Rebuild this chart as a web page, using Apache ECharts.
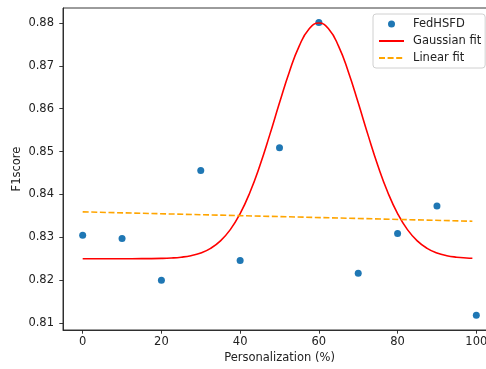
<!DOCTYPE html>
<html>
<head>
<meta charset="utf-8">
<script src="https://cdn.jsdelivr.net/npm/echarts@6/dist/echarts.min.js"></script>
<style>html,body{margin:0;padding:0;background:#fff}#c{width:486px;height:369px}</style>
</head>
<body>
<div id="c"></div>
<script>
// Observed data
var personalization = [0, 10, 20, 30, 40, 50, 60, 70, 80, 90, 100];
var f1score = [0.8305, 0.8297, 0.8200, 0.8456, 0.8246, 0.8509, 0.8801, 0.8216, 0.8309, 0.8373, 0.8118];

// Gaussian fit curve
var gaussX = [0, 5, 10, 15, 20, 22.5, 25, 27.5, 30, 32.5, 35, 37.5, 40, 42.5, 45, 47.5, 50, 52.5, 55, 57.5, 60,
              62.5, 65, 67.5, 70, 72.5, 75, 77.5, 80, 82.5, 85, 87.5, 90, 92.5, 95, 97.5, 99];
var gaussY = [0.8250, 0.8250, 0.8250, 0.82501, 0.82507, 0.82516, 0.82535, 0.8257, 0.82634, 0.82741, 0.82916, 0.83179, 0.83553,
              0.84052, 0.8467, 0.85384, 0.86138, 0.86859, 0.8746, 0.8786, 0.8800,
              0.8786, 0.8746, 0.86859, 0.86138, 0.85384, 0.8467, 0.84052, 0.83553, 0.83179, 0.82916, 0.82741,
              0.82634, 0.8257, 0.82535, 0.82516, 0.8251];

// Linear fit end points
var linearX = [0, 99];
var linearY = [0.83593, 0.83375];

// Tick labels
var xTicks = [0, 20, 40, 60, 80, 100];
var yTicks = [0.81, 0.82, 0.83, 0.84, 0.85, 0.86, 0.87, 0.88];

function zip(a, b) { return a.map(function (v, i) { return [v, b[i]]; }); }

var font = 'DejaVu Sans';
var fs = 11.5;
var chart = echarts.init(document.getElementById('c'), null, {renderer: 'canvas'});
chart.setOption({
  animation: false,
  backgroundColor: '#fff',
  textStyle: {fontFamily: font},
  grid: {left: 63, top: 8, width: 433, height: 322, show: true, borderColor: '#222', borderWidth: 0.9,
    containLabel: false, outerBoundsMode: 'none'},
  xAxis: {
    type: 'value', min: -5, max: 105,
    name: 'Personalization (%)', nameLocation: 'middle', nameGap: 22, nameMoveOverlap: false,
    nameTextStyle: {fontFamily: font, fontSize: fs, color: '#222'},
    axisLine: {show: true, onZero: false, lineStyle: {color: '#222', width: 0.9}},
    axisTick: {show: true, length: 3.7, customValues: xTicks, lineStyle: {color: '#222', width: 0.9}},
    axisLabel: {customValues: xTicks, margin: 6, fontFamily: font, fontSize: fs, color: '#222'},
    splitLine: {show: false}
  },
  yAxis: {
    type: 'value', min: 0.80836, max: 0.88351,
    name: 'F1score', nameLocation: 'middle', nameGap: 40, nameMoveOverlap: false,
    nameTextStyle: {fontFamily: font, fontSize: fs, color: '#222'},
    axisLine: {show: true, onZero: false, lineStyle: {color: '#222', width: 0.9}},
    axisTick: {show: true, length: 3.7, customValues: yTicks, lineStyle: {color: '#222', width: 0.9}},
    axisLabel: {customValues: yTicks, margin: 9, fontFamily: font, fontSize: fs, color: '#222',
      formatter: function (v) { return v.toFixed(2); }},
    splitLine: {show: false}
  },
  legend: {
    orient: 'vertical', left: 373, top: 14,
    backgroundColor: 'rgba(255,255,255,0.8)', borderColor: '#d0d0d0', borderWidth: 1, borderRadius: 3,
    padding: [4, 4, 4, 5], itemGap: 5, itemWidth: 25, itemHeight: 7,
    textStyle: {fontFamily: font, fontSize: fs, color: '#222', padding: [0, 0, 0, 4]},
    data: [
      {name: 'FedHSFD', icon: 'circle'},
      {name: 'Gaussian fit', itemStyle: {opacity: 0}},
      {name: 'Linear fit', itemStyle: {opacity: 0}}
    ]
  },
  series: [
    {
      name: 'Gaussian fit', type: 'line', data: zip(gaussX, gaussY), smooth: true, showSymbol: false, symbol: 'none',
      lineStyle: {color: '#ff0000', width: 1.6}, itemStyle: {color: '#ff0000'}, z: 2
    },
    {
      name: 'Linear fit', type: 'line', data: zip(linearX, linearY), showSymbol: false, symbol: 'none',
      lineStyle: {color: '#ffa500', width: 1.6, type: [6, 2.6]}, itemStyle: {color: '#ffa500'}, z: 2
    },
    {
      name: 'FedHSFD', type: 'scatter', data: zip(personalization, f1score), symbolSize: 7,
      itemStyle: {color: '#1f77b4', opacity: 1}, z: 1
    }
  ]
});
</script>
</body>
</html>
